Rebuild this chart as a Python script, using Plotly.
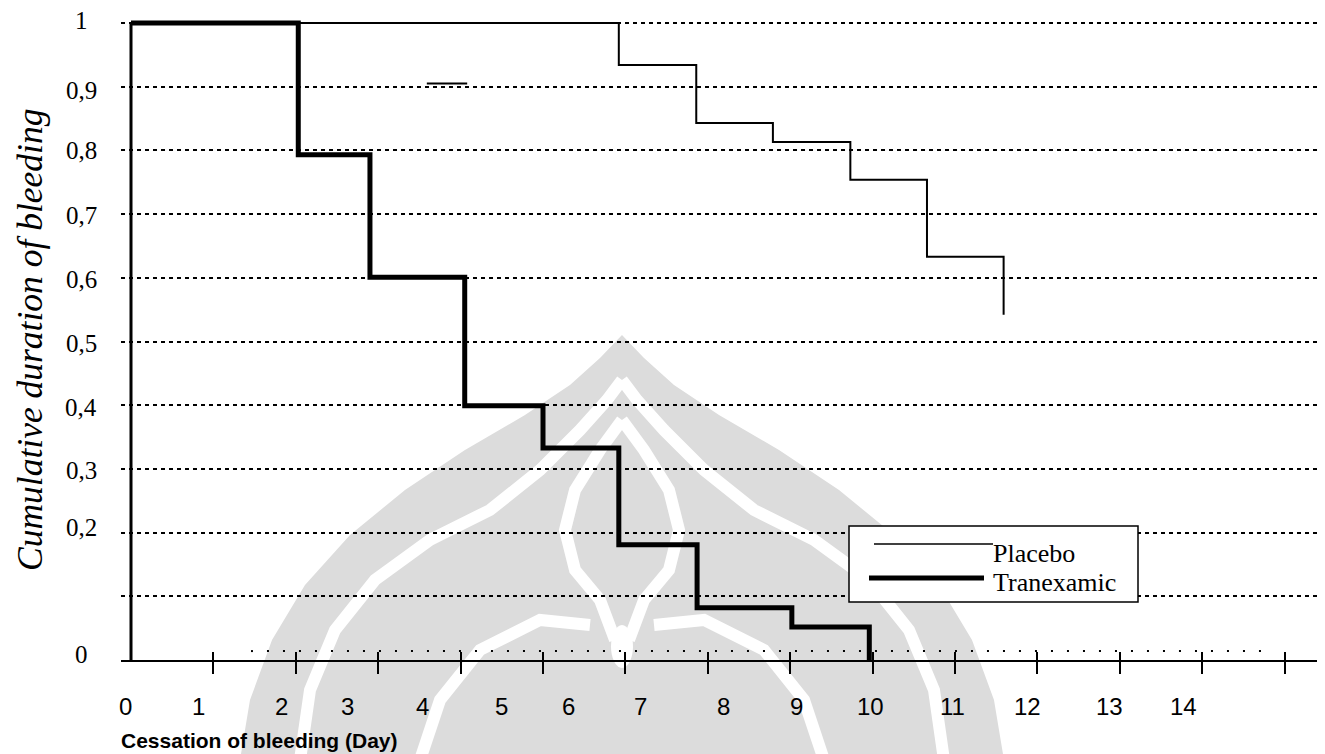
import plotly.graph_objects as go

# ---------------- data ----------------
series_names = ["Placebo", "Tranexamic"]

# x in axis-tick units (ticks at 1..14), y = cumulative proportion still bleeding
placebo_x = [0, 5.92, 6.86, 7.79, 8.73, 9.66, 10.59]
placebo_y = [1.0, 0.934, 0.843, 0.813, 0.754, 0.633, 0.542]

tranex_x = [0, 2.03, 2.90, 4.05, 5.00, 5.92, 6.87, 8.02, 8.96]
tranex_y = [1.0, 0.793, 0.601, 0.399, 0.333, 0.181, 0.082, 0.052, 0.0]

stray_x = [3.59, 4.08]
stray_y = [0.905, 0.905]

x_tick_labels = ["0", "1", "2", "3", "4", "5", "6", "7", "8", "9", "10", "11", "12", "13", "14"]
y_tick_labels = ["1", "0,9", "0,8", "0,7", "0,6", "0,5", "0,4", "0,3", "0,2", "0"]

# ---------------- layout helpers ----------------
# the page body has an 8px margin, so the figure is drawn 8px in from the corner
OFF = 8
W, H = 1325 - OFF, 754 - OFF
ML, MR, MT, MB = 121 - OFF, 0, 13 - OFF, 94
PW, PH = W - ML - MR, H - MT - MB
PX_PER_UNIT = 82.4
Y_PX_PER_UNIT = 637.0
X0_PX = 131  # screen pixel of x = 0
xr = [(121 - X0_PX) / PX_PER_UNIT, (121 - X0_PX + PW) / PX_PER_UNIT]
yr = [0, PH / Y_PX_PER_UNIT]


def px_to_paper_x(px):
    return (px - 121) / PW


def py_to_paper_y(py):
    return (660 - py) / PH


# label placement (layout, not data), in screen pixels
x_label_px = [125, 198, 281, 347, 422, 501, 568, 640, 723, 796, 870, 952, 1027, 1109, 1183]
y_label_py = [20.5, 90.5, 150.5, 215, 279.5, 343, 407, 470.5, 527.5, 654.5]

fig = go.Figure()

fig.add_trace(go.Scatter(
    x=placebo_x, y=placebo_y, mode="lines", line_shape="hv",
    line=dict(color="black", width=2), name=series_names[0], showlegend=False))
fig.add_trace(go.Scatter(
    x=tranex_x, y=tranex_y, mode="lines", line_shape="hv",
    line=dict(color="black", width=5), name=series_names[1], showlegend=False))
fig.add_trace(go.Scatter(
    x=stray_x, y=stray_y, mode="lines",
    line=dict(color="black", width=2), showlegend=False, hoverinfo="skip"))

fig.update_layout(
    width=W, height=H,
    margin=dict(l=ML, r=MR, t=MT, b=MB, pad=0),
    paper_bgcolor="white", plot_bgcolor="rgba(0,0,0,0)",
    showlegend=False,
    xaxis=dict(range=xr, showgrid=False, zeroline=False,
               showline=True, linecolor="black", linewidth=2,
               tickmode="array", tickvals=list(range(1, 15)), ticks="outside",
               ticklen=12, tickwidth=2, tickcolor="black", showticklabels=False),
    xaxis2=dict(range=xr, overlaying="x", side="bottom", showgrid=False, zeroline=False,
                showline=False, tickmode="array", tickvals=list(range(1, 15)),
                ticks="inside", ticklen=8, tickwidth=2, tickcolor="black",
                showticklabels=False),
    yaxis=dict(range=yr, showgrid=True, gridcolor="black", gridwidth=1.6,
               griddash="4px,4px", tickmode="array",
               tickvals=[0.1, 0.2, 0.3, 0.4, 0.5, 0.6, 0.7, 0.8, 0.9, 1.0],
               zeroline=False, showline=False, showticklabels=False, ticks=""),
)
fig.add_trace(go.Scatter(x=[xr[0]], y=[0], xaxis="x2", mode="markers",
                         marker=dict(opacity=0), showlegend=False, hoverinfo="skip"))


# ---------------- faint watermark (logo) ----------------
def P(px, py):
    return f"{px_to_paper_x(px):.5f},{py_to_paper_y(py):.5f}"


CX = 622
GRAY = "#dcdcdc"


def mirror_path(left_pts):
    pts = left_pts + [(2 * CX - x, y) for (x, y) in reversed(left_pts)]
    return "M " + " L ".join(P(x, y) for x, y in pts) + " Z"


outer_left = [(240, 760), (250, 700), (272, 640), (305, 585), (350, 535), (405, 490),
              (465, 450), (525, 415), (570, 385), (600, 358), (622, 335)]
wm_shapes = [dict(type="path", xref="paper", yref="paper", path=mirror_path(outer_left),
                  fillcolor=GRAY, line=dict(width=0), layer="below")]


def curve(pts):
    return "M " + P(*pts[0]) + " " + " ".join("L " + P(x, y) for x, y in pts[1:])


white_curves = [
    [(300, 760), (310, 690), (335, 630), (375, 580), (430, 540), (490, 510), (540, 470),
     (580, 430), (607, 400), (622, 380)],
    [(944, 760), (934, 690), (909, 630), (869, 580), (814, 540), (754, 510), (704, 470),
     (664, 430), (637, 400), (622, 380)],
    [(622, 420), (600, 450), (575, 490), (565, 530), (575, 570), (600, 600), (615, 640)],
    [(622, 420), (644, 450), (669, 490), (679, 530), (669, 570), (644, 600), (629, 640)],
    [(420, 760), (440, 700), (480, 650), (540, 620), (590, 625)],
    [(824, 760), (804, 700), (764, 650), (704, 620), (654, 625)],
]
for c in white_curves:
    wm_shapes.append(dict(type="path", xref="paper", yref="paper", path=curve(c),
                          line=dict(color="white", width=12), layer="below"))
wm_shapes.append(dict(type="circle", xref="paper", yref="paper",
                      x0=px_to_paper_x(611), x1=px_to_paper_x(633),
                      y0=py_to_paper_y(668), y1=py_to_paper_y(625),
                      fillcolor="white", line=dict(width=0), layer="below"))

shapes = list(wm_shapes)
# y-axis line
shapes.append(dict(type="line", xref="x", yref="y", x0=0, x1=0, y0=0, y1=1,
                   line=dict(color="black", width=3), layer="above"))
# dotted baseline
shapes.append(dict(type="line", xref="x", yref="y", x0=1.456, x1=13.85, y0=0.014, y1=0.014,
                   line=dict(color="black", width=2, dash="2px,14px"), layer="above"))
# legend box
shapes.append(dict(type="rect", xref="paper", yref="paper",
                   x0=px_to_paper_x(849), x1=px_to_paper_x(1138),
                   y0=py_to_paper_y(602), y1=py_to_paper_y(526),
                   line=dict(color="black", width=1.5), fillcolor="white", layer="above"))
shapes.append(dict(type="line", xref="paper", yref="paper",
                   x0=px_to_paper_x(874), x1=px_to_paper_x(993),
                   y0=py_to_paper_y(544), y1=py_to_paper_y(544),
                   line=dict(color="black", width=1.5), layer="above"))
shapes.append(dict(type="line", xref="paper", yref="paper",
                   x0=px_to_paper_x(869), x1=px_to_paper_x(984),
                   y0=py_to_paper_y(578), y1=py_to_paper_y(578),
                   line=dict(color="black", width=5), layer="above"))
fig.update_layout(shapes=shapes)

ann = []
serif = "Liberation Serif, Times New Roman, serif"
sans = "Liberation Sans, Arial, sans-serif"
for lab, py in zip(y_tick_labels, y_label_py):
    ann.append(dict(text=lab, xref="paper", yref="paper", x=px_to_paper_x(81),
                    y=py_to_paper_y(py), xanchor="center", yanchor="middle",
                    showarrow=False, font=dict(family=serif, size=25, color="black")))
for lab, px in zip(x_tick_labels, x_label_px):
    ann.append(dict(text=lab, xref="paper", yref="paper", x=px_to_paper_x(px),
                    y=py_to_paper_y(707), xanchor="center", yanchor="middle",
                    showarrow=False, font=dict(family=sans, size=24, color="black")))
ann.append(dict(text="<b>Cessation of bleeding (Day)</b>", xref="paper", yref="paper",
                x=px_to_paper_x(119), y=py_to_paper_y(740), xanchor="left", yanchor="middle",
                showarrow=False, font=dict(family=sans, size=21, color="black")))
ann.append(dict(text="<i>Cumulative duration of bleeding</i>", xref="paper", yref="paper",
                x=px_to_paper_x(30), y=py_to_paper_y(340), xanchor="center", yanchor="middle",
                textangle=-90, showarrow=False, borderpad=0,
                font=dict(family=serif, size=35.5, color="black")))
ann.append(dict(text=series_names[0], xref="paper", yref="paper", x=px_to_paper_x(991),
                y=py_to_paper_y(553), xanchor="left", yanchor="middle", showarrow=False,
                font=dict(family=serif, size=26, color="black")))
ann.append(dict(text=series_names[1], xref="paper", yref="paper", x=px_to_paper_x(991),
                y=py_to_paper_y(582), xanchor="left", yanchor="middle", showarrow=False,
                font=dict(family=serif, size=26, color="black")))
fig.update_layout(annotations=ann)

fig.write_html("out.html")
